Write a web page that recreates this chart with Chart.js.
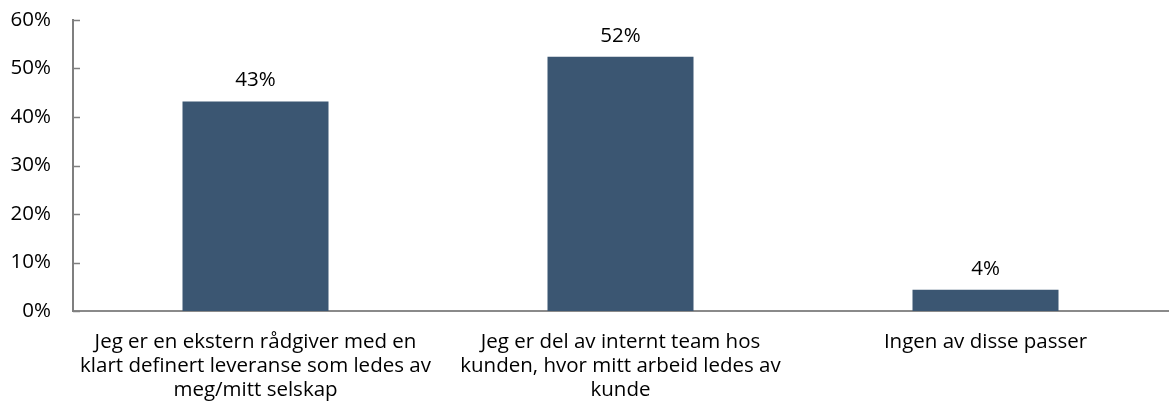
<!DOCTYPE html>
<html>
<head>
<meta charset="utf-8">
<script src="https://cdn.jsdelivr.net/npm/chart.js@4"></script>
<style>
  html, body { margin: 0; padding: 0; background: #fff; }
  #wrap { width: 1170px; height: 410px; }
</style>
</head>
<body>
<div id="wrap"><canvas id="chart"></canvas></div>
<script>
const categories = [
  ['Jeg er en ekstern rådgiver med en', 'klart definert leveranse som ledes av', 'meg/mitt selskap'],
  ['Jeg er del av internt team hos', 'kunden, hvor mitt arbeid ledes av', 'kunde'],
  ['Ingen av disse passer']
]
const shares = [43.2, 52.4, 4.4]
const shareLabels = ['43%', '52%', '4%']
const yTicks = [0, 10, 20, 30, 40, 50, 60]

const FONT = '"Open Sans", Lato, sans-serif'
const FONT_SIZE = 20.5

// inward tick marks on the y axis and value labels above bars
const extras = {
  id: 'extras',
  afterDraw(chart) {
    const ctx = chart.ctx
    const y = chart.scales.y
    const left = chart.chartArea.left
    ctx.save()
    ctx.strokeStyle = '#7f7f7f'
    ctx.lineWidth = 1.5
    yTicks.forEach((v) => {
      const py = Math.round(y.getPixelForValue(v)) + 0.5
      ctx.beginPath()
      ctx.moveTo(left, py)
      ctx.lineTo(left + 7, py)
      ctx.stroke()
    })
    ctx.fillStyle = '#000'
    ctx.font = FONT_SIZE + 'px ' + FONT
    ctx.textAlign = 'center'
    ctx.textBaseline = 'alphabetic'
    chart.getDatasetMeta(0).data.forEach((bar, i) => {
      ctx.fillText(shareLabels[i], bar.x, bar.y - 15)
    })
    ctx.restore()
  }
}

new Chart(document.getElementById('chart').getContext('2d'), {
  type: 'bar',
  data: {
    labels: categories,
    datasets: [
      {
        data: shares,
        backgroundColor: '#3b5672',
        borderWidth: 0,
        categoryPercentage: 1,
        barPercentage: 0.4
      }
    ]
  },
  options: {
    responsive: true,
    maintainAspectRatio: false,
    animation: false,
    layout: { padding: { top: 20, right: 2, left: 0, bottom: 0 } },
    plugins: {
      legend: { display: false },
      tooltip: { enabled: false }
    },
    scales: {
      x: {
        grid: { display: false, drawTicks: false },
        border: { display: true, color: '#8a8a8a', width: 2 },
        ticks: {
          color: '#000',
          font: { family: FONT, size: FONT_SIZE, lineHeight: 1.17 },
          padding: 19,
          maxRotation: 0,
          autoSkip: false
        },
        afterFit(scale) { scale.height = 99 }
      },
      y: {
        min: 0,
        max: 60,
        grid: { display: false, drawTicks: false },
        border: { display: true, color: '#7f7f7f', width: 2 },
        ticks: {
          stepSize: 10,
          color: '#000',
          font: { family: FONT, size: FONT_SIZE },
          padding: 22,
          callback: (v) => v + '%'
        },
        afterFit(scale) {
          scale.width = 73
          scale.paddingTop = 0
          scale.paddingBottom = 0
        }
      }
    }
  },
  plugins: [extras]
})
</script>
</body>
</html>
